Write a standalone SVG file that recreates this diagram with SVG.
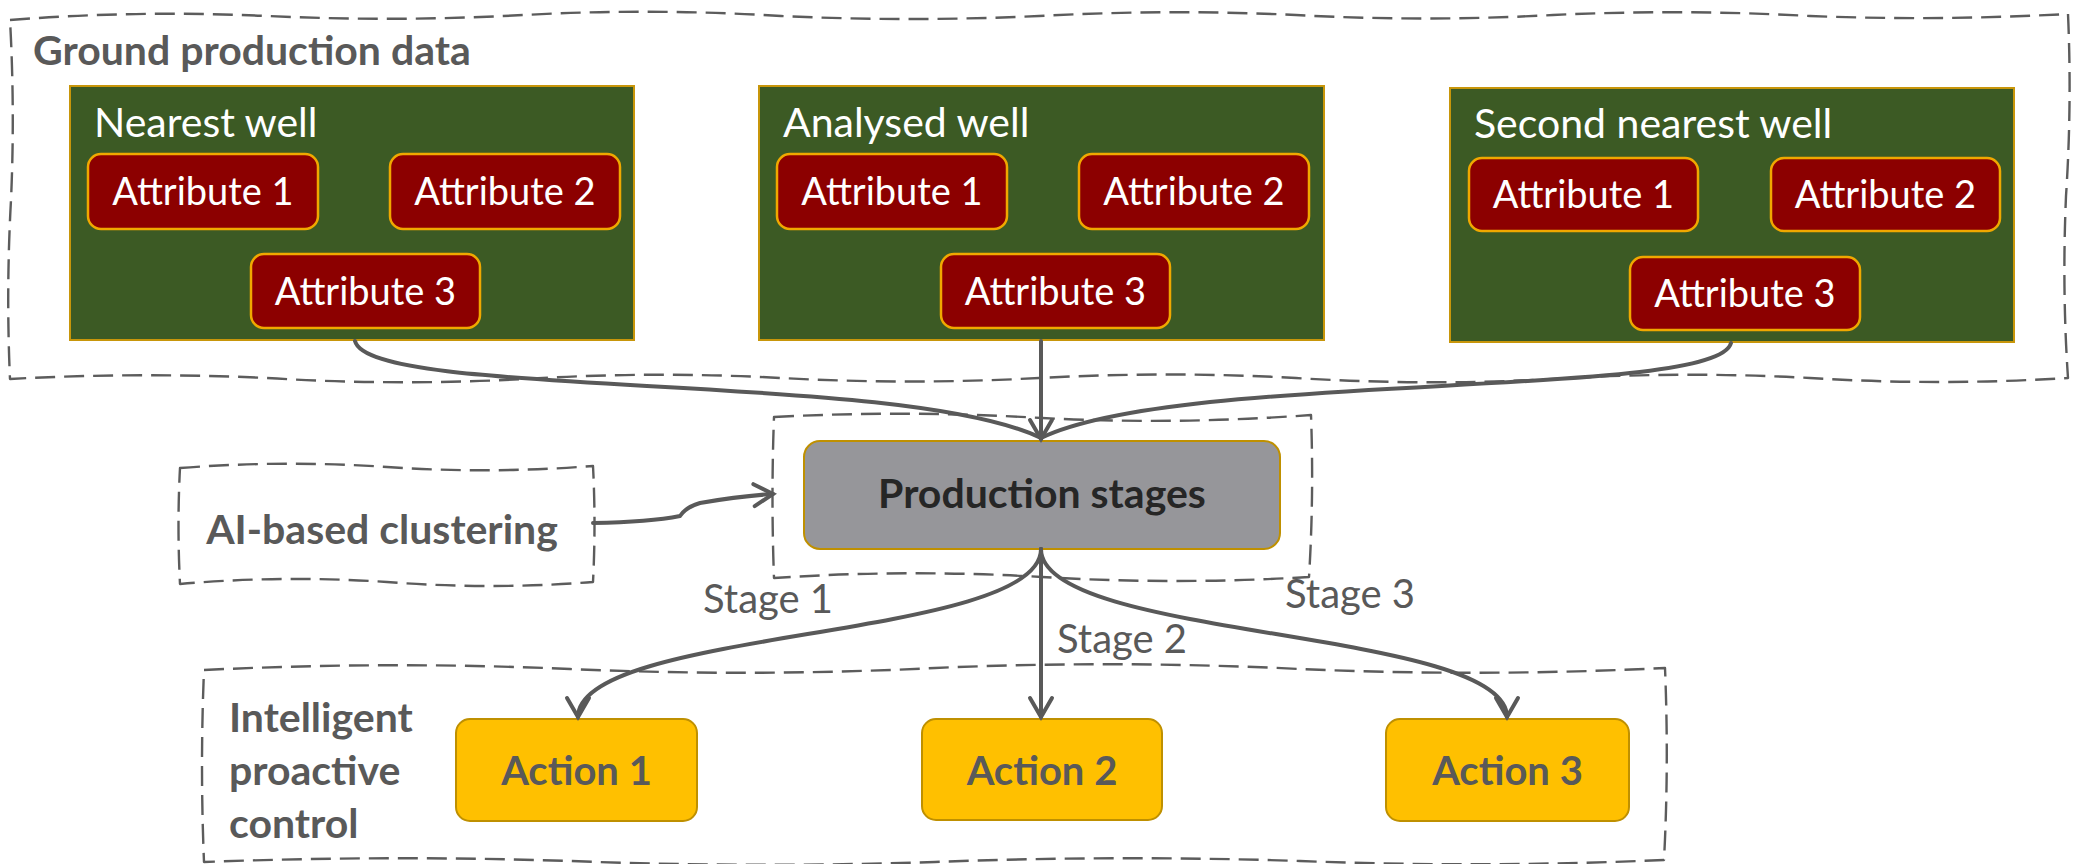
<svg xmlns="http://www.w3.org/2000/svg" width="2078" height="864" viewBox="0 0 2078 864">
  <defs>
    <style>
      .frame { fill: none; stroke: #5c5c5c; stroke-width: 2.4; stroke-dasharray: 20 9; stroke-linejoin: round; }
      .well { fill: #3c5a24; stroke: #c8960a; stroke-width: 2; }
      .attr { fill: #8c0000; stroke: #f0a800; stroke-width: 2.5; }
      .action { fill: #ffc000; stroke: #bf9000; stroke-width: 2; }
      .stage-box { fill: #96969a; stroke: #bf9000; stroke-width: 2; }
      .link { fill: none; stroke: #595959; stroke-width: 4; stroke-linecap: round; }
      .t { font-family: Lato, "Liberation Sans", sans-serif; }
      .group-title { font-size: 41px; font-weight: bold; fill: #595959; }
      .well-title { font-size: 41px; fill: #ffffff; }
      .attr-text { font-size: 38px; fill: #ffffff; text-anchor: middle; }
      .action-text { font-size: 40px; font-weight: bold; fill: #595959; text-anchor: middle; }
      .stage-text { font-size: 41px; font-weight: bold; fill: #262626; text-anchor: middle; }
      .edge-label { font-size: 40px; fill: #595959; }
    </style>
    <marker id="arrow" markerUnits="userSpaceOnUse" markerWidth="28" markerHeight="28" viewBox="0 0 28 28" refX="24" refY="14" orient="auto">
      <path d="M5,3 L24,14 L5,25" fill="none" stroke="#595959" stroke-width="4" stroke-linecap="round" stroke-linejoin="miter"/>
    </marker>
  </defs>

  <rect width="2078" height="864" fill="#ffffff"/>

  <!-- Ground production data -->
  <g id="ground-data">
    <path class="frame" d="M10,20 Q138,10 267,16 Q396,22 524,15 Q653,8 781,16 Q910,22 1039,16 Q1168,9 1296,15 Q1425,22 1553,15 Q1682,9 1810,16 Q1939,21 2068,14 Q2072,105 2066,196 Q2062,290 2068,378 Q1939,386 1810,378 Q1682,371 1553,379 Q1425,386 1296,378 Q1168,371 1039,378 Q910,385 781,378 Q653,371 524,379 Q396,386 267,378 Q138,372 10,379 Q6,290 11,200 Q15,110 10,20 Z"/>
    <text class="t group-title" x="33" y="65">Ground production data</text>
  </g>

  <g id="nearest-well">
    <rect class="well" x="70" y="86" width="564" height="254"/>
    <text class="t well-title" x="94" y="137">Nearest well</text>
    <rect class="attr" x="88" y="154" width="230" height="75" rx="13"/>
    <text class="t attr-text" x="203" y="205">Attribute 1</text>
    <rect class="attr" x="390" y="154" width="230" height="75" rx="13"/>
    <text class="t attr-text" x="505" y="205">Attribute 2</text>
    <rect class="attr" x="251" y="254" width="229" height="74" rx="13"/>
    <text class="t attr-text" x="365.5" y="305">Attribute 3</text>
  </g>

  <g id="analysed-well">
    <rect class="well" x="759" y="86" width="565" height="254"/>
    <text class="t well-title" x="783" y="137">Analysed well</text>
    <rect class="attr" x="777" y="154" width="230" height="75" rx="13"/>
    <text class="t attr-text" x="892" y="205">Attribute 1</text>
    <rect class="attr" x="1079" y="154" width="230" height="75" rx="13"/>
    <text class="t attr-text" x="1194" y="205">Attribute 2</text>
    <rect class="attr" x="941" y="254" width="229" height="74" rx="13"/>
    <text class="t attr-text" x="1055.5" y="305">Attribute 3</text>
  </g>

  <g id="second-nearest-well">
    <rect class="well" x="1450" y="88" width="564" height="254"/>
    <text class="t well-title" x="1474" y="138">Second nearest well</text>
    <rect class="attr" x="1469" y="158" width="229" height="73" rx="13"/>
    <text class="t attr-text" x="1583.5" y="208">Attribute 1</text>
    <rect class="attr" x="1771" y="158" width="229" height="73" rx="13"/>
    <text class="t attr-text" x="1885.5" y="208">Attribute 2</text>
    <rect class="attr" x="1630" y="257" width="230" height="73" rx="13"/>
    <text class="t attr-text" x="1745" y="307">Attribute 3</text>
  </g>

  <!-- Clustering -->
  <g id="ai-clustering">
    <path class="frame" d="M180,468 Q283,460 387,467 Q490,474 593,466 Q596,524 593,582 Q490,590 387,582 Q283,575 180,584 Q177,525 180,468 Z"/>
    <text class="t group-title" x="382" y="544" text-anchor="middle">AI-based clustering</text>
  </g>

  <g id="production-stages">
    <path class="frame" d="M774,417 Q908,410 1042,418 Q1176,425 1311,415 Q1314,496 1309,577 Q1176,585 1042,577 Q908,569 774,578 Q771,497 774,417 Z"/>
    <rect class="stage-box" x="804" y="441" width="476" height="108" rx="16"/>
    <text class="t stage-text" x="1042" y="508">Production stages</text>
  </g>

  <!-- Control -->
  <g id="proactive-control">
    <path class="frame" d="M204,670 Q387,661 570,669 Q752,677 935,668 Q1117,660 1300,669 Q1482,677 1665,668 Q1669,765 1664,860 Q1482,868 1300,861 Q1117,855 935,862 Q752,868 570,861 Q387,855 204,862 Q200,766 204,670 Z"/>
    <text class="t group-title" x="229" y="732">Intelligent</text>
    <text class="t group-title" x="229" y="785">proactive</text>
    <text class="t group-title" x="229" y="838">control</text>
  </g>

  <g id="action-1">
    <rect class="action" x="456" y="719" width="241" height="102" rx="14"/>
    <text class="t action-text" x="576.5" y="785">Action 1</text>
  </g>
  <g id="action-2">
    <rect class="action" x="922" y="719" width="240" height="101" rx="14"/>
    <text class="t action-text" x="1042" y="785">Action 2</text>
  </g>
  <g id="action-3">
    <rect class="action" x="1386" y="719" width="243" height="102" rx="14"/>
    <text class="t action-text" x="1507.5" y="785">Action 3</text>
  </g>

  <!-- Connectors -->
  <g id="connectors">
    <path class="link" d="M355,341 C370,400 900,370 1041,438"/>
    <path class="link" d="M1731,343 C1716,400 1182,370 1041,438"/>
    <path class="link" d="M1041,341 L1041,439" marker-end="url(#arrow)"/>
    <path class="link" d="M593,523 Q650,522 680,516 Q686,507 700,503 Q740,496 773,494" marker-end="url(#arrow)"/>
    <path class="link" d="M1041,549 C1041,640 578,628 578,717" marker-end="url(#arrow)"/>
    <path class="link" d="M1041,549 L1041,717" marker-end="url(#arrow)"/>
    <path class="link" d="M1041,549 C1041,640 1507,628 1507,717" marker-end="url(#arrow)"/>
    <text class="t edge-label" x="703" y="613">Stage 1</text>
    <text class="t edge-label" x="1057" y="653">Stage 2</text>
    <text class="t edge-label" x="1285" y="608">Stage 3</text>
  </g>
</svg>
